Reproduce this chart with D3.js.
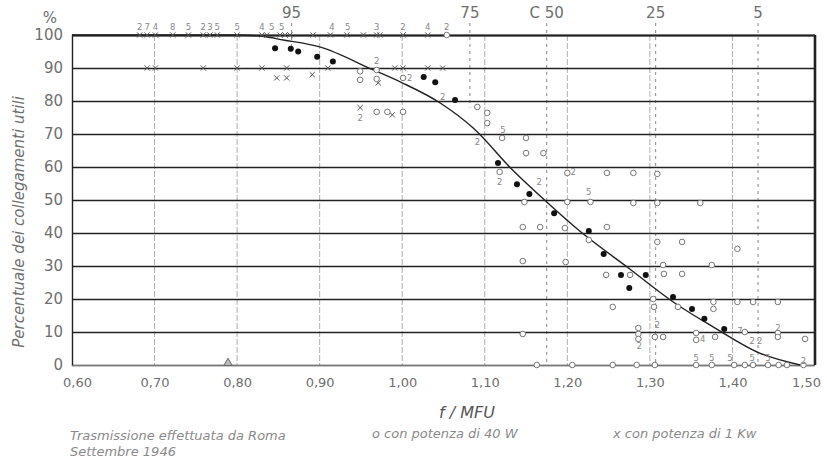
<!DOCTYPE html>
<html>
<head>
<meta charset="utf-8">
<script src="https://cdn.jsdelivr.net/npm/d3@7"></script>
<style>
  body { margin: 0; background: #fff; }
  svg { display: block; }
</style>
</head>
<body>
<svg id="chart"></svg>
<script>
// x: f / MFU, y: percentuale dei collegamenti utili
const xTicks = [0.6, 0.7, 0.8, 0.9, 1.0, 1.1, 1.2, 1.3, 1.4, 1.5];
const xTickLabels = ["0,60", "0,70", "0,80", "0,90", "1,00", "1,10", "1,20", "1,30", "1,40", "1,50"];
const yTicks = [0, 10, 20, 30, 40, 50, 60, 70, 80, 90, 100];

// fitted curve
const curveF = [0.60, 0.80, 0.83, 0.856, 0.90, 0.965, 1.00, 1.046, 1.086, 1.134, 1.175, 1.215, 1.274, 1.330, 1.377, 1.433, 1.482];
const curveP = [100, 100, 99.6, 98.5, 96.4, 89.4, 85.5, 79.4, 71.8, 59, 49.4, 40.6, 29.4, 18.8, 11.5, 3.6, 0];

// black dots
const meanF = [0.846, 0.865, 0.874, 0.897, 0.916, 1.026, 1.040, 1.064, 1.116, 1.139, 1.154, 1.184, 1.226, 1.244, 1.265, 1.275, 1.295, 1.328, 1.351, 1.366, 1.390];
const meanP = [96, 95.8, 95, 93.4, 92, 87.3, 85.7, 80.3, 61.2, 54.8, 51.8, 46, 40.6, 33.6, 27.3, 23.3, 27.3, 20.6, 17, 14, 10.9];

// o  con potenza di 40 W
const w40F = [1.054, 0.949, 0.969, 0.949, 0.969, 1.001, 0.969, 0.982, 1.001, 1.091, 1.103, 1.103, 1.121, 1.150, 1.150, 1.171,
  1.118, 1.200, 1.248, 1.280, 1.309, 1.148, 1.200, 1.228, 1.280, 1.309, 1.361, 1.146, 1.167, 1.197, 1.248, 1.226, 1.309, 1.339, 1.406,
  1.146, 1.198, 1.316, 1.375, 1.247, 1.276, 1.317, 1.339, 1.304, 1.377, 1.406, 1.425, 1.455, 1.255, 1.305, 1.334, 1.377,
  1.286, 1.286, 1.286, 1.306, 1.316, 1.356, 1.356, 1.379, 1.415, 1.455, 1.455, 1.488, 1.146,
  1.163, 1.206, 1.255, 1.284, 1.306, 1.356, 1.375, 1.402, 1.415, 1.425, 1.443, 1.456, 1.466, 1.486];
const w40P = [100, 89, 89.4, 86.4, 86.7, 87, 76.7, 76.7, 76.7, 78.2, 76.4, 73.3, 68.8, 68.8, 64.2, 64.2,
  58.5, 58.2, 58.2, 58.2, 57.9, 49.4, 49.4, 49.4, 49.1, 49.1, 49.1, 41.8, 41.8, 41.5, 41.8, 37.9, 37.3, 37.3, 35.2,
  31.5, 31.2, 30.3, 30.3, 27.3, 27.3, 27.6, 27.6, 20, 19.1, 19.1, 19.1, 19.1, 17.6, 17.6, 17.6, 17,
  11.2, 9.4, 7.9, 8.5, 8.5, 9.7, 7.6, 8.5, 10, 9.7, 8.5, 7.9, 9.4,
  0, 0, 0, 0, 0, 0, 0, 0, 0, 0, 0, 0, 0, 0];

// x  con potenza di 1 Kw
const kw1F = [0.682, 0.691, 0.701, 0.722, 0.741, 0.759, 0.767, 0.776, 0.800, 0.830, 0.836, 0.852, 0.858, 0.864, 0.892, 0.913, 0.933, 0.953, 0.969, 0.973, 1.001, 1.031,
  0.691, 0.701, 0.759, 0.800, 0.830, 0.860, 0.910, 0.991, 1.001, 1.031, 1.049,
  0.848, 0.860, 0.891, 0.971, 0.949, 0.988];
const kw1P = [100, 100, 100, 100, 100, 100, 100, 100, 100, 100, 100, 100, 100, 100, 100, 100, 100, 100, 100, 100, 100, 100,
  90, 90, 90, 90, 90, 90, 90, 90, 90, 90, 90,
  87, 87, 88, 85.5, 78, 75.8];

// small count figures written next to the points
const noteF = [0.682, 0.691, 0.701, 0.722, 0.741, 0.759, 0.767, 0.776, 0.800, 0.830, 0.842, 0.854, 0.915, 0.934, 0.969, 1.001, 1.031, 1.054,
  0.969, 1.009, 0.949, 1.049, 1.091, 1.122, 1.118, 1.207, 1.226, 1.166, 1.309, 1.287, 1.364, 1.409, 1.424, 1.433, 1.455,
  1.356, 1.375, 1.397, 1.424, 1.443, 1.486];
const noteP = [102.4, 102.4, 102.4, 102.4, 102.4, 102.4, 102.4, 102.4, 102.4, 102.4, 102.4, 102.4, 102.4, 102.4, 102.4, 102.4, 102.4, 102.4,
  92.1, 86.7, 74.8, 81.2, 67.3, 71.2, 55.2, 58.2, 52.4, 55.2, 12.1, 5.5, 7.6, 10.3, 7, 7, 11.2,
  2.1, 2.1, 2.1, 2.1, 2.1, 1.2];
const noteText = ["2", "7", "4", "8", "5", "2", "3", "5", "5", "4", "5", "5", "4", "5", "3", "2", "4", "2",
  "2", "2", "2", "2", "2", "5", "2", "2", "5", "2", "2", "2", "4", "7", "2", "2", "2",
  "5", "5", "5", "5", "5", "2"];

// percentile marks along the top
const pctLabels = ["95", "75", "C 50", "25", "5"];
const pctF = [0.866, 1.082, 1.175, 1.307, 1.431];
const pctLineEnd = [96, 78, 0, 0, 0];

const triangleF = [0.789];
const triangleP = [0];

/***********************
 * 1. Dimensions
 ************************/
const width = 827;
const height = 469;
const ink = "#222";
const grey = "#6f6f6f";
const font = "'DejaVu Sans', 'Liberation Sans', sans-serif";

const x = d3.scaleLinear().domain([0.6, 1.5]).range([72, 815]);
const y = d3.scaleLinear().domain([0, 100]).range([365, 35]);

const svg = d3.select("#chart")
  .attr("width", width)
  .attr("height", height)
  .attr("viewBox", [0, 0, width, height])
  .style("font-family", font);

/***********************
 * 2. Grid
 ************************/
// vertical grid lines (thin, broken)
svg.append("g")
  .selectAll("line")
  .data(xTicks.slice(1, -1))
  .join("line")
  .attr("x1", d => x(d)).attr("x2", d => x(d))
  .attr("y1", y(100)).attr("y2", y(0))
  .attr("stroke", "#9a9a9a")
  .attr("stroke-width", 0.8)
  .attr("stroke-dasharray", "6,2");

// percentile dashed lines
svg.append("g")
  .selectAll("line")
  .data(pctF)
  .join("line")
  .attr("x1", d => x(d)).attr("x2", d => x(d))
  .attr("y1", 23)
  .attr("y2", (d, i) => y(pctLineEnd[i]))
  .attr("stroke", "#8a8a8a")
  .attr("stroke-width", 1)
  .attr("stroke-dasharray", "3,4");

// horizontal lines every 10 %
const yAxis = d3.axisLeft(y)
  .tickValues(yTicks)
  .tickSize(-(x(1.5) - x(0.6)))
  .tickPadding(9)
  .tickFormat(d3.format("d"));

const gy = svg.append("g")
  .attr("transform", `translate(${x(0.6)},0)`)
  .call(yAxis);
gy.select(".domain").attr("stroke", ink).attr("stroke-width", 1.4);
gy.selectAll(".tick line")
  .attr("stroke", d => (d === 0 ? "#777" : ink))
  .attr("stroke-width", d => (d === 100 ? 2 : d === 0 ? 1 : 1.5));
gy.selectAll(".tick text")
  .attr("fill", grey)
  .attr("font-size", 15)
  .attr("font-family", font);

// right border
svg.append("line")
  .attr("x1", x(1.5)).attr("x2", x(1.5))
  .attr("y1", y(100)).attr("y2", y(0))
  .attr("stroke", ink)
  .attr("stroke-width", 2.6);

// x axis labels
const xAxis = d3.axisBottom(x)
  .tickValues(xTicks)
  .tickSize(0)
  .tickPadding(13)
  .tickFormat((d, i) => xTickLabels[i]);

const gx = svg.append("g")
  .attr("transform", `translate(0,${y(0)})`)
  .call(xAxis);
gx.select(".domain").remove();
gx.selectAll(".tick text")
  .attr("fill", grey)
  .attr("font-size", 13)
  .attr("font-family", font)
  .attr("dx", d => (d === 1.5 ? -9 : d === 0.6 ? 5 : 0));

/***********************
 * 3. Curve and points
 ************************/
const curveData = curveF.map((f, i) => ({ f, p: curveP[i] }));
const line = d3.line()
  .x(d => x(d.f))
  .y(d => y(d.p))
  .curve(d3.curveMonotoneX);

svg.append("path")
  .datum(curveData)
  .attr("d", line)
  .attr("fill", "none")
  .attr("stroke", ink)
  .attr("stroke-width", 1.4);

// crosses 1 Kw
const s = 2.6;
svg.append("g")
  .selectAll("path")
  .data(kw1F.map((f, i) => ({ f, p: kw1P[i] })))
  .join("path")
  .attr("d", d => {
    const cx = x(d.f), cy = y(d.p);
    return `M${cx - s},${cy - s}L${cx + s},${cy + s}M${cx - s},${cy + s}L${cx + s},${cy - s}`;
  })
  .attr("stroke", "#555")
  .attr("stroke-width", 1);

// open circles 40 W
svg.append("g")
  .selectAll("circle")
  .data(w40F.map((f, i) => ({ f, p: w40P[i] })))
  .join("circle")
  .attr("cx", d => x(d.f))
  .attr("cy", d => y(d.p))
  .attr("r", 2.8)
  .attr("fill", "#fff")
  .attr("stroke", "#777")
  .attr("stroke-width", 1);

// black dots
svg.append("g")
  .selectAll("circle")
  .data(meanF.map((f, i) => ({ f, p: meanP[i] })))
  .join("circle")
  .attr("cx", d => x(d.f))
  .attr("cy", d => y(d.p))
  .attr("r", 3)
  .attr("fill", "#111");

// triangle
svg.append("g")
  .selectAll("path")
  .data(triangleF.map((f, i) => ({ f, p: triangleP[i] })))
  .join("path")
  .attr("transform", d => `translate(${x(d.f)},${y(d.p) - 2})`)
  .attr("d", d3.symbol(d3.symbolTriangle, 30))
  .attr("fill", "#bbb")
  .attr("stroke", "#666");

// count figures
svg.append("g")
  .selectAll("text")
  .data(noteF.map((f, i) => ({ f, p: noteP[i], t: noteText[i] })))
  .join("text")
  .attr("x", d => x(d.f))
  .attr("y", d => y(d.p))
  .attr("text-anchor", "middle")
  .attr("dominant-baseline", "middle")
  .attr("font-size", 8.5)
  .attr("fill", "#888")
  .text(d => d.t);

/***********************
 * 4. Labels
 ************************/
svg.append("g")
  .selectAll("text")
  .data(pctLabels)
  .join("text")
  .attr("x", (d, i) => x(pctF[i]))
  .attr("y", 18)
  .attr("text-anchor", "middle")
  .attr("font-size", 15)
  .attr("fill", grey)
  .text(d => d);

svg.append("text")
  .attr("x", 50).attr("y", 23)
  .attr("text-anchor", "middle")
  .attr("font-size", 15)
  .attr("fill", grey)
  .text("%");

svg.append("text")
  .attr("transform", "translate(24,222) rotate(-90)")
  .attr("text-anchor", "middle")
  .attr("font-size", 15)
  .attr("font-style", "italic")
  .attr("fill", grey)
  .text("Percentuale dei collegamenti utili");

svg.append("text")
  .attr("x", 467).attr("y", 418)
  .attr("text-anchor", "middle")
  .attr("font-size", 16)
  .attr("font-style", "italic")
  .attr("fill", "#555")
  .text("f / MFU");

const caption = svg.append("g")
  .attr("font-size", 13)
  .attr("font-style", "italic")
  .attr("fill", "#8a8a8a");
caption.append("text").attr("x", 70).attr("y", 440).text("Trasmissione effettuata da Roma");
caption.append("text").attr("x", 70).attr("y", 456).text("Settembre 1946");
caption.append("text").attr("x", 372).attr("y", 438).text("o  con potenza di 40 W");
caption.append("text").attr("x", 613).attr("y", 438).text("x  con potenza di 1 Kw");
</script>
</body>
</html>
